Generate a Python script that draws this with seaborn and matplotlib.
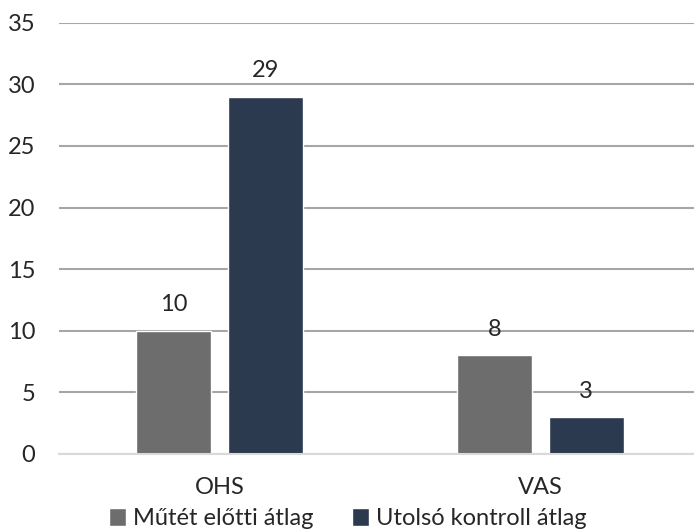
import numpy as np
import pandas as pd
import seaborn as sns
import matplotlib.pyplot as plt

# --- data
categories = ["OHS", "VAS"]
series = ["Műtét előtti átlag", "Utolsó kontroll átlag"]
pre_values = [10, 8]
post_values = [29, 3]
colors = ["#6d6d6d", "#2b3a4f"]

df = pd.DataFrame(
    {
        "cat": categories * 2,
        "series": [series[0]] * 2 + [series[1]] * 2,
        "value": pre_values + post_values,
    }
)

sns.set_theme(style="white")
plt.rcParams["font.family"] = ["Lato", "DejaVu Sans"]

fig = plt.figure(figsize=(6.94, 5.32), dpi=100)
ax = fig.add_axes([0.085, 0.147, 0.925, 0.81])

sns.barplot(
    data=df, x="cat", y="value", hue="series", palette=colors,
    width=0.57, gap=0.18, ax=ax, saturation=1, legend=True,
)

for c in ax.containers:
    ax.bar_label(c, padding=11, fontsize=17, color="#262626")

ax.set_ylim(0, 35)
ax.set_yticks(np.arange(0, 36, 5))
ax.set_xlim(-0.5, 1.5)
ax.yaxis.grid(True, color="#a6a6a6", linewidth=1.5)
ax.set_axisbelow(True)
for s in ["top", "right", "left"]:
    ax.spines[s].set_visible(False)
ax.spines["bottom"].set_color("#d9d9d9")
ax.spines["bottom"].set_linewidth(1.5)
ax.tick_params(axis="y", length=0, pad=17, labelsize=17, labelcolor="#262626")
ax.tick_params(axis="x", length=0, pad=17, labelsize=17, labelcolor="#262626")
ax.set_xlabel("")
ax.set_ylabel("")

ax.legend(
    loc="center", bbox_to_anchor=(0.45, -0.151), ncol=2, frameon=False,
    fontsize=17, handlelength=0.75, handleheight=0.75, handletextpad=0.3,
    columnspacing=1.6, labelcolor="#262626", borderpad=0,
)

plt.savefig("out.png", dpi=100)
